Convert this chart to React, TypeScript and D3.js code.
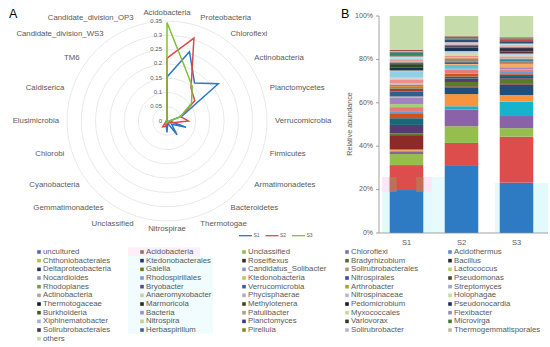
import React from "react";
import * as d3 from "d3";

// ---------- Panel A: radar ----------
const radarCats = [
  "Acidobacteria", "Proteobacteria", "Chloroflexi", "Actinobacteria", "Planctomycetes",
  "Verrucomicrobia", "Firmicutes", "Armatimonadetes", "Bacteroidetes", "Thermotogae",
  "Nitrospirae", "Unclassified", "Gemmatimonadetes", "Cyanobacteria", "Chlorobi",
  "Elusimicrobia", "Caldiserica", "TM6", "Candidate_division_WS3", "Candidate_division_OP3",
];
const radarS1 = [0.154, 0.255, 0.164, 0.222, 0.055, 0.008, 0.07, 0.02, 0.06, 0.008, 0.04, 0.01, 0.005, 0.003, 0.002, 0.002, 0.001, 0.001, 0.001, 0.001];
const radarS2 = [0.22, 0.305, 0.143, 0.12, 0.05, 0.075, 0.02, 0.01, 0.008, 0.005, 0.01, 0.02, 0.025, 0.006, 0.003, 0.002, 0.001, 0.001, 0.001, 0.001];
const radarS3 = [0.345, 0.2, 0.15, 0.106, 0.05, 0.01, 0.006, 0.004, 0.003, 0.002, 0.004, 0.01, 0.005, 0.003, 0.002, 0.002, 0.001, 0.001, 0.001, 0.001];
const radarSeriesNames = ["S1", "S2", "S3"];
const radarTicks = [0, 0.05, 0.1, 0.15, 0.2, 0.25, 0.3, 0.35];
const radarTickLabels = ["0", "0.05", "0.1", "0.15", "0.2", "0.25", "0.3", "0.35"];

// ---------- Panel B: stacked bars ----------
const samples = ["S1", "S2", "S3"];
const taxa = [
  "uncultured", "Acidobacteria", "Unclassified", "Chloroflexi", "Acidothermus",
  "Chthoniobacterales", "Ktedonobacterales", "Roseiflexus", "Bradyrhizobium", "Bacillus",
  "Deltaproteobacteria", "Gaiella", "Candidatus_Solibacter", "Solirubrobacterales", "Lactococcus",
  "Nocardioides", "Rhodospirillales", "Ktedonobacteria", "Nitrospirales", "Pseudomonas",
  "Rhodoplanes", "Bryobacter", "Verrucomicrobia", "Arthrobacter", "Streptomyces",
  "Actinobacteria", "Anaeromyxobacter", "Phycisphaerae", "Nitrospinaceae", "Holophagae",
  "Thermotogaceae", "Marmoricola", "Methylotenera", "Pedomicrobium", "Pseudonocardia",
  "Burkholderia", "Bacteria", "Patulibacter", "Myxococcales", "Flexibacter",
  "Xiphinematobacter", "Nitrospira", "Planctomyces", "Variovorax", "Microvirga",
  "Solirubrobacterales", "Herbaspirillum", "Pirellula", "Solirubrobacter", "Thermogemmatisporales",
  "others",
];
const s1Values = [
  19.8, 11.5, 5.1, 1.2, 0.3, 0.5, 0.2, 6.5, 0.8, 3.9,
  3.1, 2.3, 0.6, 2.2, 1.4, 3.0, 0.3, 0.2, 2.3, 1.3,
  0.3, 0.3, 0.3, 1.0, 0.6, 1.8, 0.4, 0.4, 3.0, 0.3,
  1.2, 0.3, 1.4, 0.2, 0.3, 0.3, 0.3, 0.8, 0.2, 0.3,
  0.9, 0.3, 0.2, 0.4, 1.1, 0.2, 0.2, 0.2, 0.2, 0.4,
  15.7,
];
const s2Values = [
  30.9, 10.6, 7.7, 7.7, 1.5, 5.6, 3.1, 0.5, 2.0, 1.6,
  0.9, 1.2, 0.3, 1.5, 0.3, 0.3, 1.8, 0.4, 0.8, 0.3,
  0.6, 0.4, 0.3, 0.3, 0.4, 0.8, 0.9, 0.5, 0.4, 0.2,
  1.6, 0.2, 0.2, 0.4, 0.2, 0.2, 0.3, 0.2, 0.2, 0.2,
  0.2, 0.2, 1.3, 0.3, 0.2, 0.5, 0.2, 0.2, 0.1, 0.1,
  9.2,
];
const s3Values = [
  23.2, 21.2, 3.9, 5.6, 6.6, 3.1, 4.8, 0.6, 2.1, 0.8,
  0.9, 0.4, 1.4, 0.5, 0.5, 0.5, 0.4, 1.6, 0.3, 0.3,
  0.2, 0.2, 1.0, 0.3, 0.3, 0.7, 0.4, 0.4, 0.3, 0.2,
  0.3, 0.6, 0.3, 1.3, 0.2, 0.2, 0.2, 0.3, 0.6, 0.2,
  0.2, 0.2, 1.1, 0.5, 0.3, 0.3, 0.2, 0.2, 0.2, 0.2,
  9.7,
];
const yTicks = [0, 20, 40, 60, 80, 100];

// ---------- styles ----------
const radarColors = ["#2a78c0", "#e04848", "#7fbf3f"];
const barColors = [
  "#2e7bc4", "#dd4d4b", "#94bf4f", "#8a62a8", "#17b3cc", "#f7943e",
  "#1e4e79", "#8b2a27", "#5b7a2a", "#553b6e", "#17687a", "#d0521a",
  "#6c9ad2", "#e87a78", "#a9cd72", "#a184c0", "#5fc0d6", "#f9aa66",
  "#2f5f92", "#a83b38", "#758f3f", "#65507f", "#2f8aa0", "#e0731a",
  "#a7c0e0", "#ee8e8c", "#cde0a7", "#c4b4d6", "#8fd0e6", "#fbc89c",
  "#1a3350", "#4f1c1b", "#2f4a1c", "#33263f", "#154550", "#7a3a05",
  "#8fb0da", "#ef9896", "#c0d894", "#b3a0cb", "#b0e4ee", "#fbba86",
  "#27507d", "#c83836", "#2a9050", "#4f3d66", "#1f6f84", "#b8560d",
  "#bccfe8", "#8b2a27", "#c6dcaa",
];
const legendColors = [
  "#5b67b8", "#8b7760", "#8fbf4f", "#7a6fb0", "#5f89d0",
  "#c8b84a", "#2e2e70", "#3a2f28", "#556b2f", "#2a2540",
  "#2a3560", "#7a7a10", "#8899cc", "#a89878", "#b8cc70",
  "#9a90b8", "#7a9ad8", "#c8c060", "#3a4a9a", "#504030",
  "#7a9a40", "#5a4a8a", "#3a5aa8", "#a8a820", "#a0a8d0",
  "#a8a8a0", "#c8d0a0", "#b0a8d0", "#b0b8d8", "#d0d890",
  "#1a1a3a", "#2a2a1a", "#3a4a10", "#1a1a3a", "#2a2a5a",
  "#4a5a10", "#9a90d0", "#a8a090", "#c8d890", "#9090c0",
  "#a0b0e0", "#c8d080", "#3a3a8a", "#3a3a20", "#4a7a20",
  "#3a3a5a", "#4a5aa0", "#8a8a10", "#b0b8e0", "#c0b8a0",
  "#c8d8a8",
];
const FONT = "'Liberation Sans', Arial, sans-serif";
const TXT = "#595959";

export default function App() {
  // radar geometry
  const cx = 167, cy = 121;
  const r = d3.scaleLinear().domain([0, 0.35]).range([0, 100]);
  const n = radarCats.length;
  const ang = (i: number) => (i * 2 * Math.PI) / n;
  const radarData = [radarS1, radarS2, radarS3];
  const line = d3
    .lineRadial<number>()
    .angle((_, i) => ang(i))
    .radius((v) => r(v))
    .curve(d3.curveLinearClosed);

  // bars
  const x = d3.scaleBand<string>().domain(samples).range([379, 544]).paddingInner(0.39).paddingOuter(0.195);
  const y = d3.scaleLinear().domain([0, 100]).range([233, 16]);
  const sampleValues = [s1Values, s2Values, s3Values];
  const keys = taxa.map((_, i) => String(i));
  const table = samples.map((s, j) => {
    const row: any = { sample: s };
    taxa.forEach((_, i) => (row[String(i)] = sampleValues[j][i]));
    return row;
  });
  const stacked = d3.stack().keys(keys)(table);

  const legendColX = [39, 142, 244, 347, 450];
  const legendRow0 = 252, legendRowH = 8.67;

  return (
    <svg width={550} height={347} style={{ position: "absolute", left: 0, top: 0, background: "#fff" }} fontFamily={FONT}>
      <rect x={0} y={0} width={550} height={347} fill="#fff" />
      {/* Panel A */}
      <text x={9} y={18} fontSize={12.5} fill="#000">A</text>
      <g transform={`translate(${cx},${cy})`}>
        {radarTicks.slice(1).map((t) => (
          <circle key={t} r={r(t)} fill="none" stroke="#e3e3e3" strokeWidth={0.8} />
        ))}
        {radarTicks.map((t, i) => (
          <text key={"t" + t} x={-5} y={-r(t)} fontSize={6} fill={TXT} textAnchor="end" dominantBaseline="middle">
            {radarTickLabels[i]}
          </text>
        ))}
        {radarCats.map((c, i) => {
          const a = ang(i);
          const rr = 108;
          const sx = Math.sin(a), cy2 = -Math.cos(a);
          const anchor = Math.abs(sx) < 0.01 ? "middle" : sx > 0 ? "start" : "end";
          return (
            <text key={c} x={sx * rr} y={cy2 * rr} fontSize={7.8} fill={TXT} textAnchor={anchor} dominantBaseline="middle">
              {c}
            </text>
          );
        })}
        {radarData.map((d, k) => (
          <path key={k} d={line(d) || ""} fill="none" stroke={radarColors[k]} strokeWidth={1.5} strokeLinejoin="miter" />
        ))}
      </g>
      {/* radar legend */}
      {radarSeriesNames.map((s, k) => {
        const x0 = 239 + k * 26.5;
        return (
          <g key={s}>
            <line x1={x0} x2={x0 + 13} y1={235.7} y2={235.7} stroke={radarColors[k]} strokeWidth={1.3} />
            <text x={x0 + 14.5} y={235.7} fontSize={5} fill={TXT} dominantBaseline="middle">{s}</text>
          </g>
        );
      })}

      {/* Panel B */}
      <text x={341} y={18} fontSize={12.5} fill="#000">B</text>
      {/* faint artifact boxes */}
      <rect x={382} y={177} width={50} height={15} fill="#fde6f6" />
      <rect x={382} y={192} width={50} height={41} fill="#e2fafc" />
      <rect x={432} y={177} width={13} height={56} fill="#e8fbfc" />
      <rect x={495} y={183} width={53} height={50} fill="#e2fafc" />
      {stacked.map((layer, i) => (
        <g key={i} fill={barColors[i]}>
          {layer.map((seg, j) => (
            <rect key={j} x={x(samples[j])} width={x.bandwidth()} y={y(seg[1])} height={Math.max(0, y(seg[0]) - y(seg[1]))} />
          ))}
        </g>
      ))}
      <rect x={x("S1")} y={177} width={7} height={15} fill="#b97856" opacity={0.85} />
      <rect x={(x("S1") as number) + x.bandwidth() - 7} y={177} width={7} height={15} fill="#b97856" opacity={0.85} />
      {/* axes */}
      <line x1={379} x2={379} y1={16} y2={233} stroke="#8c8c8c" strokeWidth={0.8} />
      <line x1={379} x2={548} y1={233} y2={233} stroke="#8c8c8c" strokeWidth={0.8} />
      {yTicks.map((t) => (
        <g key={t}>
          <line x1={376} x2={379} y1={y(t)} y2={y(t)} stroke="#8c8c8c" strokeWidth={0.8} />
          <text x={373} y={y(t)} fontSize={7} fill={TXT} textAnchor="end" dominantBaseline="middle">{t + "%"}</text>
        </g>
      ))}
      {samples.map((s) => (
        <text key={s} x={(x(s) as number) + x.bandwidth() / 2} y={243} fontSize={7.5} fill={TXT} textAnchor="middle" dominantBaseline="middle">{s}</text>
      ))}
      <text transform={`translate(350,124) rotate(-90)`} fontSize={7.2} fill={TXT} textAnchor="middle" dominantBaseline="middle">Relative abundance</text>

      {/* legend */}
      <rect x={128} y={247.5} width={72} height={8.5} fill="#fdeef8" />
      <rect x={128} y={256} width={85} height={78} fill="#f0fcfd" />
      {taxa.map((t, i) => {
        const col = i % 5, row = Math.floor(i / 5);
        const lx = legendColX[col], ly = legendRow0 + row * legendRowH;
        return (
          <g key={i}>
            <rect x={lx - 1.8} y={ly - 1.8} width={3.6} height={3.6} fill={legendColors[i]} />
            <text x={lx + 4} y={ly} fontSize={7.8} fill={TXT} dominantBaseline="middle">{t}</text>
          </g>
        );
      })}
    </svg>
  );
}
